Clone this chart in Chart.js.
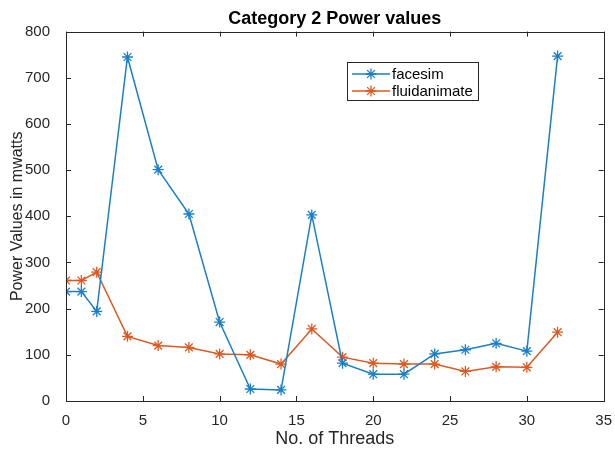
<!DOCTYPE html>
<html>

<head>
    <meta charset="utf-8">
    <title>Category 2 Power values</title>
    <style>
        body { margin: 0; background: #fff; }
    </style>
</head>

<body>
    <canvas id="myChart" width="615" height="450"></canvas>

    <script src="https://cdn.jsdelivr.net/npm/chart.js"></script>

    <script>
        // values
        const threads = [0, 1, 2, 4, 6, 8, 10, 12, 14, 16, 18, 20, 22, 24, 26, 28, 30, 32];
        const facesim = [237, 237, 194, 745, 501, 405, 171, 26, 24, 403, 82, 58, 58, 102, 111, 125, 108, 747];
        const fluidanimate = [261, 261, 279, 140, 120, 116, 102, 100, 80, 156, 95, 82, 80, 80, 64, 74, 73, 149];
        const xTicks = [0, 5, 10, 15, 20, 25, 30, 35];
        const yTicks = [0, 100, 200, 300, 400, 500, 600, 700, 800];

        const BLUE = '#1a7fc6';
        const ORANGE = '#dc5a22';
        const AXIS = '#262626';
        const FONT = '"Liberation Sans", Arial, sans-serif';

        const toPoints = (ys) => threads.map((x, i) => ({ x: x, y: ys[i] }));

        const makeSet = function (label, ys, color) {
            return {
                label: label,
                data: toPoints(ys),
                borderColor: color,
                backgroundColor: color,
                showLine: true,
                borderWidth: 1.5,
                pointStyle: 'star',
                pointRadius: 5.5,
                pointBorderWidth: 1.3,
                pointHoverRadius: 5.5,
                tension: 0,
            };
        }

        // matlab style box + inward ticks + legend inside the axes
        const matlabAxes = {
            id: 'matlabAxes',
            afterDatasetsDraw(chart) {
                const { ctx, chartArea: a, scales } = chart;
                const len = 5;
                ctx.save();
                ctx.strokeStyle = AXIS;
                ctx.lineWidth = 1;
                ctx.strokeRect(Math.round(a.left) + 0.5, Math.round(a.top) + 0.5,
                    Math.round(a.right - a.left), Math.round(a.bottom - a.top));
                ctx.beginPath();
                xTicks.forEach(v => {
                    const px = Math.round(scales.x.getPixelForValue(v)) + 0.5;
                    ctx.moveTo(px, a.bottom); ctx.lineTo(px, a.bottom - len);
                    ctx.moveTo(px, a.top); ctx.lineTo(px, a.top + len);
                });
                yTicks.forEach(v => {
                    const py = Math.round(scales.y.getPixelForValue(v)) + 0.5;
                    ctx.moveTo(a.left, py); ctx.lineTo(a.left + len, py);
                    ctx.moveTo(a.right, py); ctx.lineTo(a.right - len, py);
                });
                ctx.stroke();

                // legend
                const bx = 347, by = 62, bw = 131, bh = 38;
                ctx.fillStyle = '#fff';
                ctx.fillRect(bx, by, bw, bh);
                ctx.strokeStyle = AXIS;
                ctx.strokeRect(bx + 0.5, by + 0.5, bw, bh);
                ctx.font = '15px ' + FONT;
                ctx.textBaseline = 'middle';
                chart.data.datasets.forEach((ds, i) => {
                    const y = by + 12 + i * 17;
                    ctx.strokeStyle = ds.borderColor;
                    ctx.lineWidth = 1.5;
                    ctx.beginPath();
                    ctx.moveTo(bx + 5, y); ctx.lineTo(bx + 43, y);
                    ctx.stroke();
                    ctx.lineWidth = 1.3;
                    Chart.helpers.drawPoint(ctx, { pointStyle: 'star', radius: 5.5, borderWidth: 1.3 }, bx + 24, y);
                    ctx.fillStyle = '#000';
                    ctx.fillText(ds.label, bx + 45, y + 1);
                });
                ctx.restore();
            }
        };

        const data = {
            datasets: [
                makeSet('facesim', facesim, BLUE),
                makeSet('fluidanimate', fluidanimate, ORANGE),
            ]
        };

        const config = {
            type: 'scatter',
            data: data,
            options: {
                responsive: false,
                animation: false,
                layout: { padding: { right: 0 } },
                plugins: {
                    legend: { display: false },
                    tooltip: { enabled: false },
                    title: {
                        display: true,
                        fullSize: false,
                        text: 'Category 2 Power values',
                        color: '#000',
                        font: { family: FONT, size: 18, weight: 'bold' },
                        padding: { top: 8, bottom: 2 }
                    },
                },
                scales: {
                    x: {
                        type: 'linear',
                        min: 0,
                        max: 35,
                        afterFit: (s) => { s.height = 49; },
                        afterBuildTicks: (s) => { s.ticks = xTicks.map(v => ({ value: v })); },
                        grid: { display: false },
                        border: { display: false },
                        ticks: { color: AXIS, padding: 3, maxRotation: 0, font: { family: FONT, size: 15 } },
                        title: {
                            display: true,
                            text: 'No. of Threads',
                            color: AXIS,
                            padding: { top: 0, bottom: 0 },
                            font: { family: FONT, size: 18 }
                        }
                    },
                    y: {
                        min: 0,
                        max: 800,
                        afterFit: (s) => { s.width = 66; },
                        afterBuildTicks: (s) => { s.ticks = yTicks.map(v => ({ value: v })); },
                        grid: { display: false },
                        border: { display: false },
                        ticks: { color: AXIS, padding: 8, font: { family: FONT, size: 15 } },
                        title: {
                            display: true,
                            text: 'Power Values in mwatts',
                            color: AXIS,
                            padding: { top: 8, bottom: 0 },
                            font: { family: FONT, size: 16 }
                        }
                    }
                }
            },
            plugins: [matlabAxes]
        };

        const ctx = document.getElementById('myChart');
        new Chart(ctx, config);
    </script>

</body>

</html>
